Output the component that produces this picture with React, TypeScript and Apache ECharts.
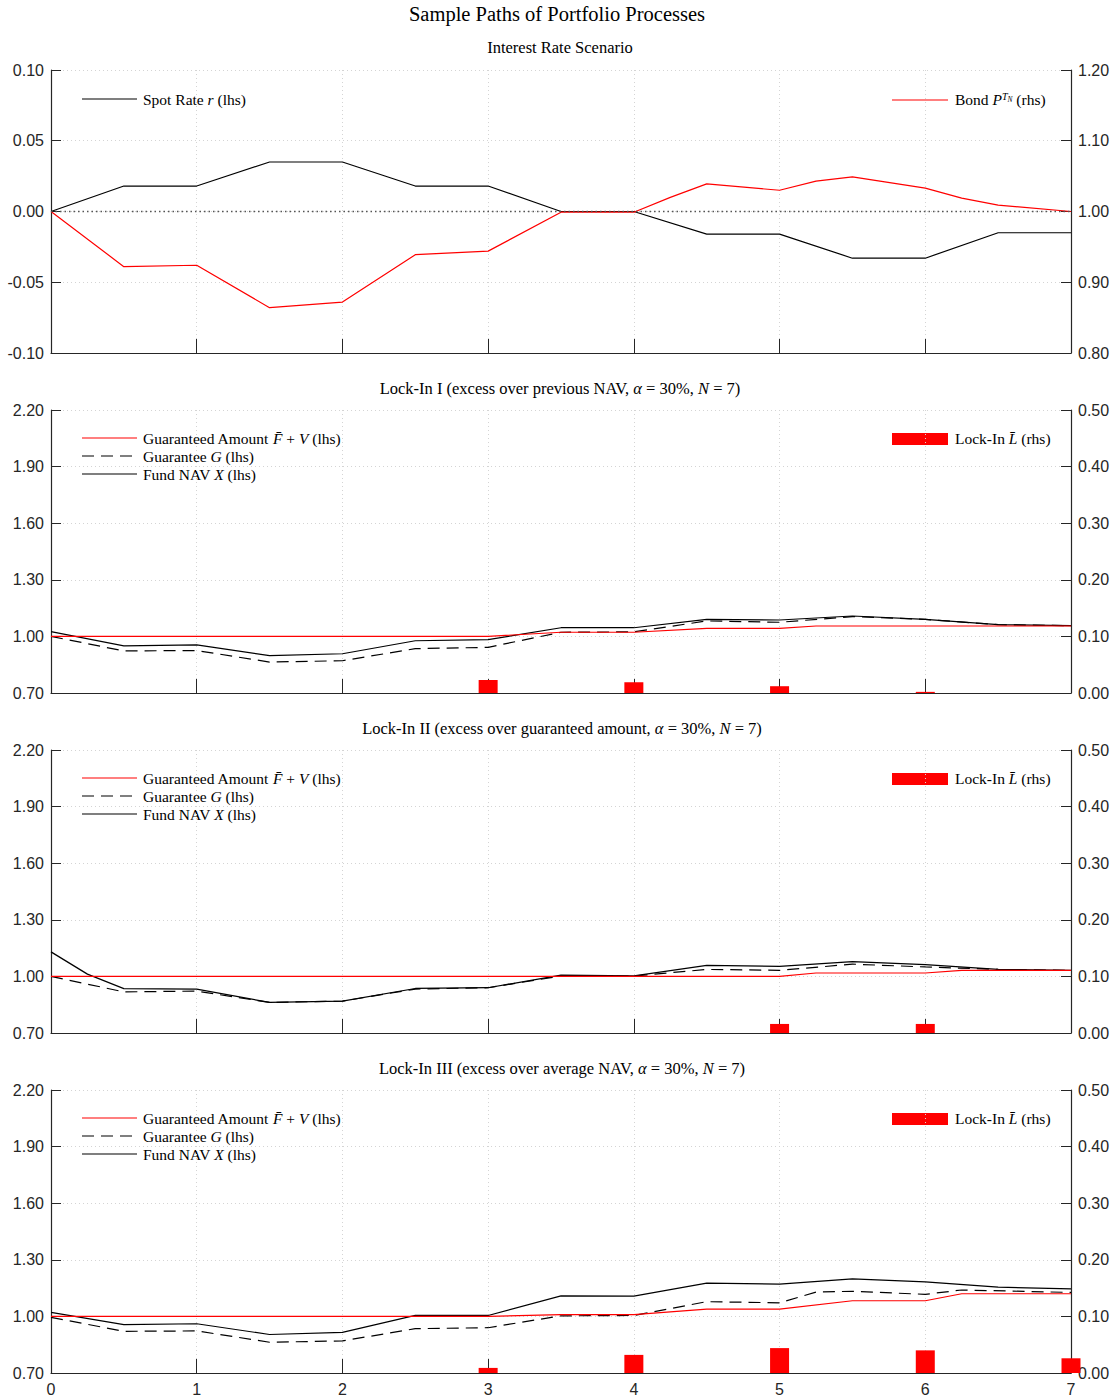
import React, { useEffect, useRef } from "react";
import * as echarts from "echarts";

// ---------- DATA ----------
const xTicks = [0, 1, 2, 3, 4, 5, 6, 7];

// Panel 1: interest rate scenario
const tSpot = [0, 0.5, 1, 1.5, 2, 2.5, 3, 3.5, 4, 4.5, 5, 5.5, 6, 6.5, 7];
const spotRate = [0, 0.018, 0.018, 0.035, 0.035, 0.018, 0.018, 0, 0, -0.016, -0.016, -0.033, -0.033, -0.015, -0.015];
const tBond = [0, 0.5, 1, 1.5, 2, 2.5, 3, 3.5, 4, 4.25, 4.5, 5, 5.25, 5.5, 6, 6.25, 6.5, 7];
const bondPrice = [1.0, 0.922, 0.924, 0.864, 0.872, 0.939, 0.944, 0.999, 0.999, 1.02, 1.039, 1.03, 1.043, 1.049, 1.033, 1.019, 1.009, 1.0];

// Half-year grid
const tHalf = [0, 0.5, 1, 1.5, 2, 2.5, 3, 3.5, 4, 4.5, 5, 5.5, 6, 6.5, 7];

// Panel 2: Lock-In I
const navI = [1.025, 0.95, 0.955, 0.898, 0.908, 0.977, 0.983, 1.046, 1.046, 1.09, 1.087, 1.108, 1.09, 1.062, 1.057];
const guarI = [1.0, 0.923, 0.925, 0.864, 0.871, 0.935, 0.942, 1.022, 1.024, 1.082, 1.075, 1.105, 1.09, 1.062, 1.057];
const tAmtI = [0, 3, 3.5, 4, 4.5, 5, 5.25, 7];
const amtI = [1.0, 1.0, 1.022, 1.022, 1.043, 1.043, 1.055, 1.055];
const tLockI = [3, 4, 5, 6];
const lockI = [0.023, 0.019, 0.012, 0.002];

// Panel 3: Lock-In II
const tNavII = [0, 0.25, 0.5, 1, 1.5, 2, 2.5, 3, 3.5, 4, 4.5, 5, 5.5, 6, 6.5, 7];
const navII = [1.13, 1.012, 0.935, 0.933, 0.862, 0.869, 0.936, 0.94, 1.007, 1.003, 1.058, 1.053, 1.078, 1.062, 1.037, 1.032];
const guarII = [1.0, 0.918, 0.922, 0.862, 0.869, 0.933, 0.94, 1.002, 1.002, 1.037, 1.032, 1.065, 1.05, 1.037, 1.032];
const tAmtII = [0, 5, 5.25, 6, 6.25, 7];
const amtII = [1.0, 1.0, 1.018, 1.018, 1.032, 1.032];
const tLockII = [5, 6];
const lockII = [0.016, 0.016];

// Panel 4: Lock-In III
const navIII = [1.021, 0.956, 0.961, 0.904, 0.915, 1.005, 1.005, 1.109, 1.107, 1.176, 1.171, 1.199, 1.183, 1.155, 1.146];
const tGuarIII = [0, 0.5, 1, 1.5, 2, 2.5, 3, 3.5, 4, 4.5, 5, 5.25, 5.5, 6, 6.25, 7];
const guarIII = [0.995, 0.921, 0.923, 0.863, 0.87, 0.935, 0.94, 1.003, 1.005, 1.078, 1.072, 1.129, 1.133, 1.117, 1.14, 1.127];
const tAmtIII = [0, 3, 3.5, 4, 4.5, 5, 5.5, 6, 6.25, 7];
const amtIII = [1.0, 1.0, 1.009, 1.009, 1.039, 1.039, 1.083, 1.083, 1.12, 1.12];
const tLockIII = [3, 4, 5, 6, 7];
const lockIII = [0.009, 0.032, 0.044, 0.04, 0.026];

const mainTitle = "Sample Paths of Portfolio Processes";
const panelTitles = [
  "Interest Rate Scenario",
  "Lock-In I (excess over previous NAV, {it|α} = 30%, {it|N} = 7)",
  "Lock-In II (excess over guaranteed amount, {it|α} = 30%, {it|N} = 7)",
  "Lock-In III (excess over average NAV, {it|α} = 30%, {it|N} = 7)",
];

// ---------- STYLE ----------
const SERIF = '"Liberation Serif", "Times New Roman", serif';
const SANS = '"Liberation Sans", Arial, Helvetica, sans-serif';
const AXIS = "#262626";
const GRIDC = "#d4d4d4";
const RED = "#ff0000";
const DASH = [12, 7];

const zip = (t: number[], v: number[]) => t.map((x, i) => [x, v[i]]);

const panelTops = [70, 410, 750, 1090];
const panelH = 283;
const L = 51;
const R = 1071;

function buildOption() {
  const grids = panelTops.map((top) => ({ left: L, width: R - L, top, height: panelH }));

  const xAxes = panelTops.map((_, i) => ({
    type: "value",
    gridIndex: i,
    min: 0,
    max: 7,
    interval: 1,
    axisLine: { show: true, onZero: false, lineStyle: { color: AXIS, width: 1.2 } },
    axisTick: { show: true, inside: true, length: 14, lineStyle: { color: AXIS } },
    axisLabel: {
      show: i === 3,
      fontFamily: SANS,
      fontSize: 16,
      color: AXIS,
      margin: 8,
      formatter: (v: number) => (xTicks.includes(v) ? String(v) : ""),
    },
    splitLine: { show: true, lineStyle: { color: GRIDC, type: [1, 3] } },
  }));

  const yCommon = (gridIndex: number, pos: string, min: number, max: number, interval: number, split: boolean) => ({
    type: "value",
    gridIndex,
    position: pos,
    min,
    max,
    interval,
    axisLine: { show: true, onZero: false, lineStyle: { color: AXIS, width: 1.2 } },
    axisTick: { show: true, inside: true, length: 10, lineStyle: { color: AXIS } },
    axisLabel: {
      fontFamily: SANS,
      fontSize: 16,
      color: AXIS,
      margin: 7,
      formatter: (v: number) => v.toFixed(2),
    },
    splitLine: { show: split, lineStyle: { color: GRIDC, type: [1, 3] } },
  });

  const yAxes: any[] = [
    yCommon(0, "left", -0.1, 0.1, 0.05, true),
    yCommon(0, "right", 0.8, 1.2, 0.1, false),
  ];
  for (let i = 1; i < 4; i++) {
    yAxes.push(yCommon(i, "left", 0.7, 2.2, 0.3, true));
    yAxes.push(yCommon(i, "right", 0, 0.5, 0.1, false));
  }

  const line = (name: string, xi: number, yi: number, data: number[][], color: string, dashed = false, z = 3) => ({
    name,
    type: "line",
    xAxisIndex: xi,
    yAxisIndex: yi,
    data,
    showSymbol: false,
    symbol: "none",
    z,
    lineStyle: { color, width: 1.2, type: dashed ? DASH : "solid" },
  });
  const bars = (name: string, xi: number, yi: number, data: number[][]) => ({
    name,
    type: "bar",
    xAxisIndex: xi,
    yAxisIndex: yi,
    data,
    barWidth: 19,
    itemStyle: { color: RED },
    z: 1,
  });

  const series: any[] = [
    {
      ...line("Spot Rate", 0, 0, zip(tSpot, spotRate), "#000"),
      markLine: {
        silent: true,
        symbol: "none",
        label: { show: false },
        lineStyle: { color: "#555", type: [1.5, 3], width: 1.4 },
        data: [{ yAxis: 0 }],
      },
    },
    line("Bond", 0, 1, zip(tBond, bondPrice), RED),

    bars("Lock-In I", 1, 3, zip(tLockI, lockI)),
    line("NAV I", 1, 2, zip(tHalf, navI), "#000"),
    line("G I", 1, 2, zip(tHalf, guarI), "#000", true),
    line("F+V I", 1, 2, zip(tAmtI, amtI), RED, false, 4),

    bars("Lock-In II", 2, 5, zip(tLockII, lockII)),
    line("NAV II", 2, 4, zip(tNavII, navII), "#000"),
    line("G II", 2, 4, zip(tHalf, guarII), "#000", true),
    line("F+V II", 2, 4, zip(tAmtII, amtII), RED, false, 4),

    bars("Lock-In III", 3, 7, zip(tLockIII, lockIII)),
    line("NAV III", 3, 6, zip(tHalf, navIII), "#000"),
    line("G III", 3, 6, zip(tGuarIII, guarIII), "#000", true),
    line("F+V III", 3, 6, zip(tAmtIII, amtIII), RED, false, 4),
  ];

  const mkRich = (size: number) => ({
    it: { fontFamily: SERIF, fontStyle: "italic", fontSize: size, fill: "#000" },
    sup: { fontFamily: SERIF, fontStyle: "italic", fontSize: size * 0.65, verticalAlign: "top", fill: "#000" },
    sub: { fontFamily: SERIF, fontStyle: "italic", fontSize: size * 0.48, verticalAlign: "middle", fill: "#000" },
  });
  const txt = (x: number, y: number, text: string, size = 15.5, align = "left") => ({
    type: "text",
    x,
    y,
    silent: true,
    style: {
      text,
      fontFamily: SERIF,
      fontSize: size,
      fill: "#000",
      align,
      verticalAlign: "middle",
      rich: mkRich(size),
    },
  });
  const seg = (x1: number, x2: number, y: number, color: string, dashed = false) => ({
    type: "line",
    silent: true,
    shape: { x1, y1: y, x2, y2: y },
    style: { stroke: color, lineWidth: 1.2, lineDash: dashed ? DASH : null },
  });

  const graphics: any[] = [
    txt(557, 14, mainTitle, 20.5, "center"),
    txt(560, 47, panelTitles[0], 16.5, "center"),
    txt(560, 388, panelTitles[1], 16.5, "center"),
    txt(562, 728, panelTitles[2], 16.5, "center"),
    txt(562, 1068, panelTitles[3], 16.5, "center"),
    // panel 1 legend
    seg(82, 137, 99, "#000"),
    txt(143, 99, "Spot Rate {it|r} (lhs)"),
    seg(892, 948, 100, RED),
    txt(955, 99, "Bond {it|P}{sup|T}{sub|N} (rhs)"),
  ];
  [410, 750, 1090].forEach((top) => {
    graphics.push(seg(82, 137, top + 28, RED));
    graphics.push(txt(143, top + 28, "Guaranteed Amount {it|F\u0304} + {it|V} (lhs)"));
    graphics.push(seg(82, 137, top + 46, "#000", true));
    graphics.push(txt(143, top + 46, "Guarantee {it|G} (lhs)"));
    graphics.push(seg(82, 137, top + 64, "#000"));
    graphics.push(txt(143, top + 64, "Fund NAV {it|X} (lhs)"));
    graphics.push({
      type: "rect",
      silent: true,
      shape: { x: 892, y: top + 23, width: 56, height: 12 },
      style: { fill: RED },
    });
    graphics.push(txt(955, top + 28, "Lock-In {it|L\u0304} (rhs)"));
  });

  return {
    animation: false,
    backgroundColor: "#ffffff",
    grid: grids,
    xAxis: xAxes,
    yAxis: yAxes,
    series,
    graphic: graphics,
  };
}

export default function App() {
  const ref = useRef<HTMLDivElement>(null);
  useEffect(() => {
    document.body.style.margin = "0";
    if (!ref.current) return;
    const chart = echarts.init(ref.current, undefined, { renderer: "svg" });
    chart.setOption(buildOption() as any);
    return () => chart.dispose();
  }, []);
  return <div ref={ref} style={{ width: 1117, height: 1400, background: "#fff" }} />;
}
